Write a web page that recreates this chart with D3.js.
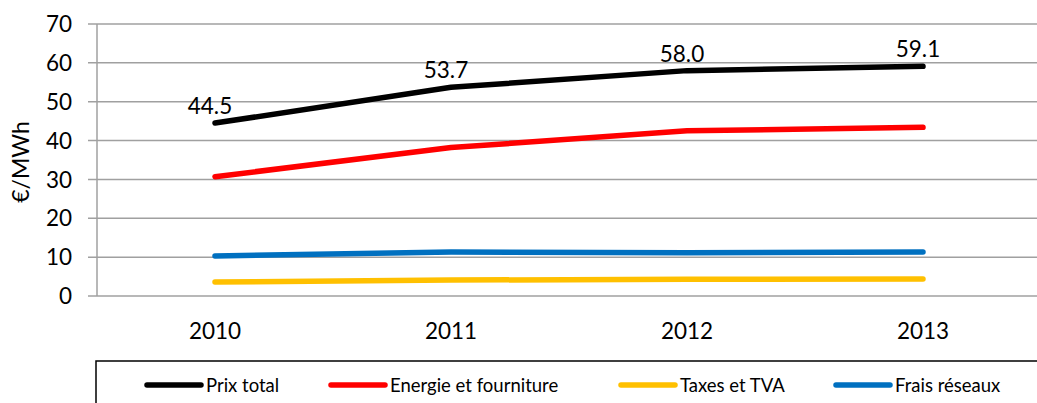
<!DOCTYPE html>
<html>
<head>
<meta charset="utf-8">
<script src="https://cdn.jsdelivr.net/npm/d3@7"></script>
<style>
body { margin: 0; background: #fff; }
svg { display: block; font-family: Lato, "Open Sans", sans-serif; }
</style>
</head>
<body>
<div id="target"></div>
<script>
var width = 1037,
    height = 403;

// data
var years = ['2010', '2011', '2012', '2013'];
var prixTotal = [44.5, 53.7, 58.0, 59.1];
var energie = [30.7, 38.2, 42.5, 43.4];
var taxes = [3.6, 4.1, 4.3, 4.4];
var frais = [10.3, 11.3, 11.1, 11.3];
var yTicks = [0, 10, 20, 30, 40, 50, 60, 70];

var seriesNames = ['Prix total', 'Energie et fourniture', 'Taxes et TVA', 'Frais réseaux'];
var colors = ['#000000', '#ff0000', '#ffc000', '#0070c0'];

var series = [prixTotal, energie, taxes, frais].map(function (vals, i) {
    return {name: seriesNames[i], color: colors[i], values: vals};
});

var plotLeft = 97, plotTop = 24, plotBottom = 296;

var svg = d3.select('#target').append('svg')
    .attr('width', width)
    .attr('height', height);

var x = d3.scaleBand().domain(years).range([plotLeft, plotLeft + 4 * 236]);
var y = d3.scaleLinear().domain([0, 70]).range([plotBottom, plotTop]);

function cx(d) { return x(d) + x.bandwidth() / 2; }

// gridlines
svg.append('g')
    .selectAll('line')
    .data(yTicks)
    .enter()
    .append('line')
    .attr('x1', plotLeft - 9)
    .attr('x2', width)
    .attr('y1', function (d) { return y(d); })
    .attr('y2', function (d) { return y(d); })
    .attr('stroke', '#a0a0a0')
    .attr('stroke-width', 1.5);

// y axis line
svg.append('line')
    .attr('x1', plotLeft).attr('x2', plotLeft)
    .attr('y1', plotTop).attr('y2', plotBottom)
    .attr('stroke', '#a0a0a0')
    .attr('stroke-width', 1.5);

// y tick labels
svg.append('g')
    .selectAll('text')
    .data(yTicks)
    .enter()
    .append('text')
    .attr('x', 72)
    .attr('y', function (d) { return y(d); })
    .attr('dy', '0.36em')
    .attr('text-anchor', 'end')
    .attr('font-size', 22.5)
    .text(function (d) { return d; });

// y title
svg.append('text')
    .attr('transform', 'translate(29,162) rotate(-90)')
    .attr('text-anchor', 'middle')
    .attr('font-size', 23)
    .text('€/MWh');

// x labels
svg.append('g')
    .selectAll('text')
    .data(years)
    .enter()
    .append('text')
    .attr('x', cx)
    .attr('y', 339)
    .attr('text-anchor', 'middle')
    .attr('font-size', 22.5)
    .text(function (d) { return d; });

// lines
var line = d3.line()
    .x(function (d, i) { return cx(years[i]); })
    .y(function (d) { return y(d); });

svg.append('g')
    .selectAll('path')
    .data(series.slice().reverse())
    .enter()
    .append('path')
    .attr('d', function (d) { return line(d.values); })
    .attr('fill', 'none')
    .attr('stroke', function (d) { return d.color; })
    .attr('stroke-width', 5.5)
    .attr('stroke-linecap', 'round')
    .attr('stroke-linejoin', 'round');

// data labels on total
svg.append('g')
    .selectAll('text')
    .data(prixTotal)
    .enter()
    .append('text')
    .attr('x', function (d, i) { return cx(years[i]) - 5; })
    .attr('y', function (d) { return y(d) - 9; })
    .attr('text-anchor', 'middle')
    .attr('font-size', 22.5)
    .text(function (d) { return d.toFixed(1); });

// legend box
svg.append('rect')
    .attr('x', 96).attr('y', 361)
    .attr('width', 1000).attr('height', 100)
    .attr('fill', 'none')
    .attr('stroke', '#000')
    .attr('stroke-width', 1.5);

var legendX = [147, 331, 621, 836];
var lg = svg.append('g')
    .selectAll('g')
    .data(series)
    .enter()
    .append('g')
    .attr('transform', function (d, i) { return 'translate(' + legendX[i] + ',385)'; });

lg.append('line')
    .attr('x1', 0).attr('x2', 54)
    .attr('stroke', function (d) { return d.color; })
    .attr('stroke-width', 5.5)
    .attr('stroke-linecap', 'round');

lg.append('text')
    .attr('x', 59)
    .attr('dy', '0.36em')
    .attr('font-size', 18.5)
    .text(function (d) { return d.name; });
</script>
</body>
</html>
